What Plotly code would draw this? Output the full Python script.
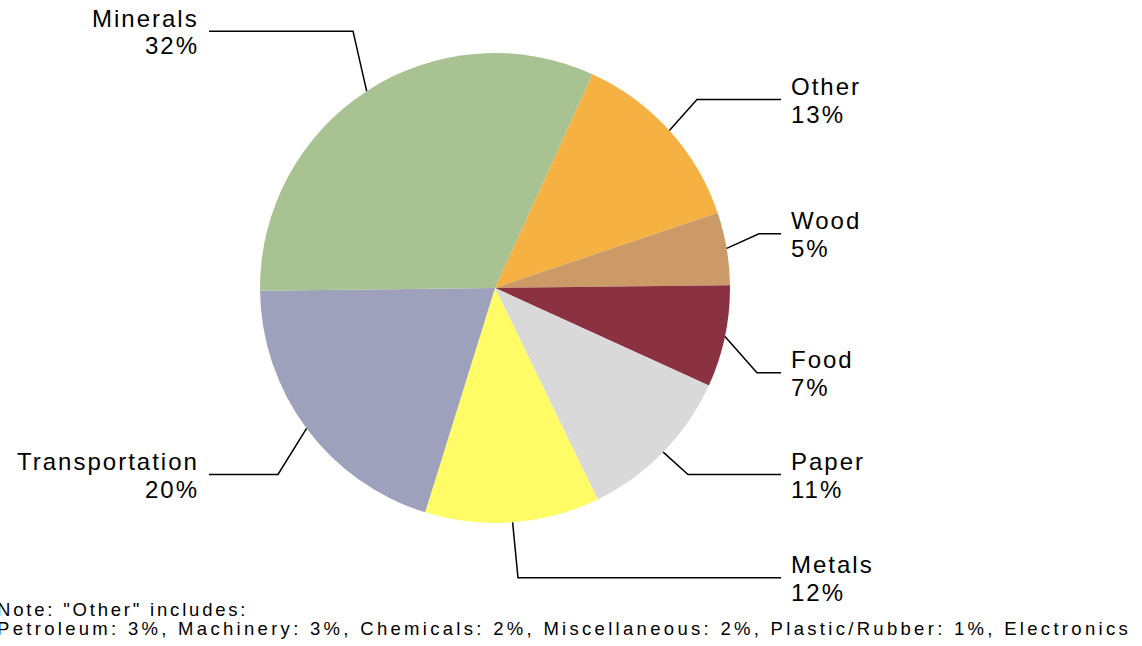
import math
import plotly.graph_objects as go

# Freight share by commodity group (percent)
categories = ["Other", "Wood", "Food", "Paper", "Metals", "Transportation", "Minerals"]
shares = [13, 5, 7, 11, 12, 20, 32]
colors = ["#F5B142", "#CC9A66", "#8B3242", "#D9D9D9", "#FFFC66", "#9EA1BC", "#A9C291"]

note_title = 'Note: "Other" includes:'
note_items = ["Petroleum: 3%", "Machinery: 3%", "Chemicals: 2%",
              "Miscellaneous: 2%", "Plastic/Rubber: 1%", "Electronics"]

W, H = 1142, 646
CX, CY, R = 495, 288, 235          # pie centre and radius in pixels
START_ANGLE = 24.5                  # clockwise from 12 o'clock

# label placement: side, baseline of name line, elbow x of the leader
label_layout = {
    "Minerals":       ("left", 26.7, 353),
    "Other":          ("right", 95.0, 697),
    "Wood":           ("right", 229.3, 759),
    "Food":           ("right", 368.3, 757),
    "Paper":          ("right", 470.0, 688),
    "Metals":         ("right", 573.3, 518),
    "Transportation": ("left", 470.0, 278),
}
FONT = "Liberation Sans, Arial, sans-serif"
FS = 24
LINE_STEP = 27.7
NOTE_FS = 18.5


def px(x):
    return x / W


def py(y):
    return 1 - y / H


fig = go.Figure(go.Pie(
    labels=categories,
    values=shares,
    marker=dict(colors=colors, line=dict(width=0)),
    sort=False,
    direction="clockwise",
    rotation=START_ANGLE,
    textinfo="none",
    hoverinfo="label+percent",
    showlegend=False,
    domain=dict(x=[px(CX - R), px(CX + R)], y=[py(CY + R), py(CY - R)]),
))

annotations = []
shapes = []
total = sum(shares)
cum = 0.0
for name, v in zip(categories, shares):
    mid = START_ANGLE + (cum + v / 2) / total * 360.0
    cum += v
    a = math.radians(mid)
    ex, ey = CX + R * math.sin(a), CY - R * math.cos(a)
    side, base, elbow_x = label_layout[name]
    line_y = base + 4.5
    if side == "right":
        end_x, text_x, anchor, shift = 781, 791, "left", 0
    else:
        end_x, text_x, anchor, shift = 209, 197, "right", 2
    shapes.append(dict(
        type="path", xref="paper", yref="paper",
        path=f"M {px(ex)},{py(ey)} L {px(elbow_x)},{py(line_y)} L {px(end_x)},{py(line_y)}",
        line=dict(color="black", width=1.5),
    ))
    for k, txt in enumerate([name, f"{v}%"]):
        annotations.append(dict(
            x=px(text_x), y=py(base + k * LINE_STEP - 8.6),
            xref="paper", yref="paper", xanchor=anchor, yanchor="middle",
            align=anchor, text=txt, showarrow=False, xshift=shift,
            borderpad=0, borderwidth=0,
            font=dict(family=FONT, size=FS, color="black"),
        ))

for k, txt in enumerate([note_title, ", ".join(note_items)]):
    annotations.append(dict(
        x=px(-3), y=py(616 + 19 * k - 6.6),
        xref="paper", yref="paper", xanchor="left", yanchor="middle",
        align="left", text=txt, showarrow=False,
        borderpad=0, borderwidth=0,
        font=dict(family=FONT, size=NOTE_FS, color="black"),
    ))

fig.update_layout(
    width=W, height=H,
    margin=dict(l=0, r=0, t=0, b=0),
    paper_bgcolor="white",
    plot_bgcolor="white",
    annotations=annotations,
    shapes=shapes,
)

# widen the tracking of the label and note texts
spacing_js = """
var gd = document.getElementById('{plot_id}');
gd.querySelectorAll('.annotation-text').forEach(function(t) {
    var fs = parseFloat(t.style.fontSize);
    var ls = '2px';
    if (fs < 20) { ls = (t.textContent.length > 40) ? '3.3px' : '2.8px'; }
    t.style.letterSpacing = ls;
});
"""

fig.write_html("out.html", post_script=spacing_js)
